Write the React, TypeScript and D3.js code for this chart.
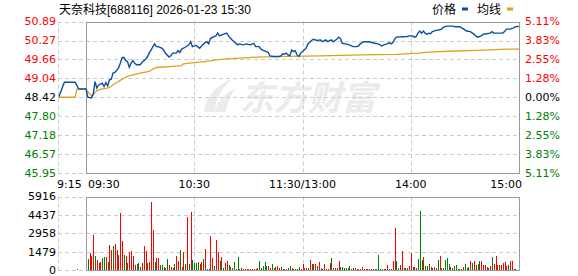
import React from "react";
import * as d3 from "d3";

const W = 578;
const H = 276;

const titleText = "天奈科技[688116] 2026-01-23 15:30";
const legendNames = ["价格", "均线"];

const priceTicks = [50.89, 50.27, 49.66, 49.04, 48.42, 47.8, 47.18, 46.57, 45.95];
const priceTickLabels = ["50.89", "50.27", "49.66", "49.04", "48.42", "47.80", "47.18", "46.57", "45.95"];
const pctTickLabels = ["5.11%", "3.83%", "2.55%", "1.28%", "0.00%", "1.28%", "2.55%", "3.83%", "5.11%"];
const volTicks = [5916, 4437, 2958, 1479, 0];
const timeLabelText = ["9:15", "09:30", "10:30", "11:30/13:00", "14:00", "15:00"];
const timeLabelMinutes = [-15, 0, 60, 120, 180, 240];
const gridMinutes = [60, 120, 180];

// minutes from 09:30 (negative = pre-market auction from 9:15); afternoon continues at 120
const priceMinutes = [
  -15, -12, -6, -4, 0, 1, 3, 4, 5, 6, 7, 9, 10, 11, 12, 13, 14, 15, 16, 18, 19, 20, 21, 22, 23, 24, 25, 26, 27, 28, 30,
  31, 33, 34, 35, 36, 38, 39, 40, 42, 43, 44, 46, 47, 48, 50, 51, 52, 53, 55, 56, 57, 58, 59, 61, 63, 64, 66, 67, 68,
  69, 71, 72, 73, 74, 76, 78, 79, 81, 83, 84, 85, 87, 89, 91, 93, 94, 96, 97, 98, 100, 101, 102, 104, 107, 108, 109,
  110, 111, 112, 113, 114, 115, 116, 117, 118, 119, 120, 122, 123, 125, 126, 128, 130, 131, 133, 134, 136, 137, 139,
  140, 141, 142, 144, 146, 148, 150, 151, 152, 154, 157, 160, 162, 164, 165, 167, 168, 169, 170, 171, 172, 178, 179,
  181, 182, 183, 184, 185, 186, 187, 188, 189, 190, 191, 192, 194, 196, 197, 198, 200, 203, 205, 207, 209, 211, 213,
  215, 216, 217, 219, 220, 222, 224, 225, 226, 231, 232, 233, 235, 237, 238, 240,
];
const priceValues = [
  48.44, 48.91, 48.91, 48.69, 48.69, 48.42, 48.4, 48.52, 48.93, 48.72, 48.82, 48.88, 48.77, 48.9, 48.79, 48.99, 49.01,
  49.21, 49.23, 49.37, 49.53, 49.71, 49.72, 49.62, 49.58, 49.4, 49.53, 49.62, 49.53, 49.48, 49.48, 49.55, 49.66, 49.73,
  49.86, 49.96, 50.16, 50.07, 50.07, 50.02, 49.96, 49.86, 49.73, 49.77, 49.86, 49.86, 49.94, 49.88, 49.99, 50.05, 50.09,
  50.13, 50.23, 50.07, 50.11, 50.02, 50.09, 50.2, 50.23, 50.16, 50.34, 50.4, 50.42, 50.51, 50.42, 50.47, 50.51, 50.42,
  50.29, 50.18, 50.13, 50.16, 50.13, 50.16, 50.13, 50.18, 50.07, 50.07, 49.99, 49.96, 49.91, 49.88, 49.77, 49.75, 49.75,
  49.77, 49.83, 49.83, 49.86, 49.8, 49.77, 49.96, 49.91, 49.94, 49.8, 49.75, 49.86, 49.91, 50.02, 50.16, 50.27, 50.31,
  50.27, 50.29, 50.23, 50.29, 50.23, 50.29, 50.23, 50.31, 50.38, 50.34, 50.18, 50.16, 50.13, 50.07, 50.07, 50.09, 50.16,
  50.23, 50.23, 50.18, 50.16, 50.09, 50.13, 50.16, 50.2, 50.16, 50.2, 50.31, 50.38, 50.4, 50.42, 50.42, 50.38, 50.4,
  50.51, 50.58, 50.51, 50.58, 50.51, 50.47, 50.51, 50.49, 50.56, 50.6, 50.62, 50.64, 50.7, 50.74, 50.74, 50.72, 50.72,
  50.66, 50.58, 50.56, 50.48, 50.42, 50.38, 50.42, 50.47, 50.49, 50.51, 50.56, 50.51, 50.51, 50.56, 50.64, 50.64, 50.68,
  50.72, 50.73,
];

const avgMinutes = [
  -15, -6, -5, 0, 1, 3, 4, 6, 9, 12, 14, 15, 17, 19, 21, 23, 26, 30, 35, 37, 39, 46, 53, 54, 60, 68, 72, 78, 95, 112,
  130, 153, 172, 184, 190, 201, 217, 233, 240,
];
const avgValues = [
  48.42, 48.42, 48.69, 48.69, 48.6, 48.47, 48.5, 48.64, 48.69, 48.72, 48.77, 48.83, 48.9, 48.97, 49.04, 49.1, 49.15,
  49.21, 49.26, 49.34, 49.39, 49.42, 49.45, 49.51, 49.55, 49.6, 49.64, 49.67, 49.73, 49.75, 49.77, 49.8, 49.82, 49.86,
  49.89, 49.92, 49.95, 49.99, 49.99,
];

const volMinutes = [
  -5, 0, 1, 2, 3, 4, 5, 6, 7, 8, 9, 10, 11, 12, 13, 14, 15, 16, 17, 18, 19, 20, 21, 22, 23, 24, 25, 26, 27, 28, 29, 30,
  31, 32, 33, 34, 35, 36, 37, 38, 39, 40, 41, 42, 43, 44, 45, 46, 47, 48, 49, 50, 51, 52, 53, 54, 55, 56, 57, 58, 59,
  60, 61, 62, 63, 64, 65, 66, 67, 68, 69, 70, 71, 72, 73, 74, 75, 76, 77, 78, 79, 80, 81, 82, 83, 84, 85, 86, 87, 88,
  89, 90, 91, 92, 93, 94, 95, 96, 97, 98, 99, 100, 101, 102, 103, 104, 105, 106, 107, 108, 109, 110, 111, 112, 113,
  114, 115, 116, 117, 118, 119, 120, 121, 122, 123, 124, 125, 126, 127, 128, 129, 130, 131, 132, 133, 134, 135, 136,
  137, 138, 139, 140, 141, 142, 143, 144, 145, 146, 147, 148, 149, 150, 151, 152, 153, 154, 155, 156, 157, 158, 159,
  160, 161, 162, 163, 164, 165, 166, 167, 168, 169, 170, 171, 172, 173, 174, 175, 176, 177, 178, 179, 180, 181, 182,
  183, 184, 185, 186, 187, 188, 189, 190, 191, 192, 193, 194, 195, 196, 197, 198, 199, 200, 201, 202, 203, 204, 205,
  206, 207, 208, 209, 210, 211, 212, 213, 214, 215, 216, 217, 218, 219, 220, 221, 222, 223, 224, 225, 226, 227, 228,
  229, 230, 231, 232, 233, 234, 235, 236, 237, 238, 240,
];
const volValues = [
  100, 1210, 890, 1370, 1130, 2820, 1130, 810, 590, 620, 1000, 1050, 1080, 670, 2020, 1590, 1940, 2100, 1610, 1210, 4600,
  2340, 1210, 1100, 590, 1430, 1560, 1100, 400, 510, 590, 270, 590, 1940, 1530, 560, 650, 5490, 3250, 650, 1000, 940,
  400, 400, 215, 135, 890, 400, 240, 190, 480, 1160, 730, 1610, 270, 1480, 460, 4300, 480, 4680, 810, 560, 560, 670, 460,
  620, 890, 1670, 80, 80, 2770, 970, 350, 2420, 1450, 730, 1080, 190, 540, 730, 400, 270, 135, 620, 80, 1050, 80, 160,
  80, 80, 80, 80, 80, 80, 80, 80, 135, 730, 135, 350, 670, 300, 300, 190, 460, 135, 270, 300, 190, 240, 80, 80, 80, 190,
  320, 160, 80, 80, 80, 240, 80, 480, 135, 160, 190, 810, 480, 480, 480, 350, 650, 135, 80, 480, 80, 80, 590, 1000, 190,
  190, 135, 750, 215, 240, 190, 160, 135, 350, 80, 190, 135, 80, 80, 80, 270, 80, 80, 80, 80, 80, 80, 80, 80, 1210, 80,
  80, 80, 80, 400, 80, 80, 730, 3420, 730, 190, 400, 1560, 135, 190, 135, 320, 1370, 240, 240, 135, 890, 4760, 810, 1080,
  320, 320, 480, 270, 135, 270, 135, 810, 1130, 190, 135, 810, 970, 510, 270, 135, 350, 400, 80, 80, 80, 240, 480, 190,
  215, 730, 540, 730, 400, 480, 730, 730, 400, 400, 270, 190, 350, 1050, 480, 1130, 400, 400, 400, 560, 650, 320, 430,
  730, 730, 80, 80, 1290,
];
// 1 = up (red), 0 = down (green)
const volUp = [
  1, 0, 0, 1, 1, 1, 0, 1, 1, 1, 0, 0, 1, 0, 1, 1, 0, 1, 1, 1, 1, 1, 0, 1, 0, 1, 1, 1, 1, 0, 0, 1, 1, 1, 1, 0, 1, 1, 1, 0,
  1, 1, 0, 0, 1, 0, 0, 1, 1, 1, 0, 1, 1, 0, 1, 1, 0, 1, 0, 1, 0, 0, 0, 0, 1, 1, 0, 1, 0, 0, 1, 1, 0, 1, 1, 0, 1, 0, 1, 1,
  0, 0, 1, 0, 1, 0, 0, 1, 1, 1, 1, 1, 1, 1, 1, 1, 1, 0, 0, 0, 0, 0, 1, 1, 0, 1, 0, 1, 1, 0, 1, 1, 1, 0, 0, 1, 0, 0, 0, 0,
  1, 1, 1, 1, 0, 1, 0, 1, 1, 0, 1, 0, 1, 1, 1, 1, 1, 0, 1, 0, 1, 1, 0, 0, 0, 0, 0, 0, 1, 1, 0, 1, 1, 1, 1, 1, 1, 1, 1, 1,
  0, 0, 0, 0, 0, 0, 1, 0, 1, 0, 0, 1, 1, 0, 0, 1, 1, 0, 1, 0, 1, 1, 0, 1, 1, 0, 0, 0, 1, 0, 0, 1, 0, 1, 1, 0, 0, 1, 1, 0,
  0, 0, 0, 1, 0, 0, 0, 0, 0, 0, 1, 0, 0, 0, 1, 0, 1, 1, 0, 0, 1, 1, 1, 1, 0, 1, 0, 1, 1, 1, 0, 1, 1, 1, 1, 0, 1, 1,
];

const RED = "#ff0000";
const GREEN = "#008000";
const BLACK = "#000000";
const BLUE = "#0b4f9f";
const ORANGE = "#dea11c";
const GRID = "#cccccc";
const FRAME = "#999999";
const FONT = "'DejaVu Sans', Tahoma, sans-serif";
const CJK = "'Liberation Sans', 'Noto Sans CJK SC', sans-serif";

const px = (v: number) => Math.round(v) + 0.5;

export default function App() {
  const left = 86;
  const right = 519;
  const preLeft = 58;
  const pTop = 21.5;
  const pBottom = 173;
  const vTop = 196.5;
  const vBottom = 270;

  const x = d3.scaleLinear().domain([0, 240]).range([left, right]);
  const yP = d3.scaleLinear().domain([45.95, 50.89]).range([pBottom, pTop]);
  const yV = d3.scaleLinear().domain([0, 5916]).range([vBottom, vTop]);

  const line = d3
    .line<[number, number]>()
    .x((d) => x(d[0]))
    .y((d) => yP(d[1]));

  const pricePath = line(priceMinutes.map((m, i) => [m, priceValues[i]] as [number, number])) || "";
  const avgPath = line(avgMinutes.map((m, i) => [m, avgValues[i]] as [number, number])) || "";

  const tickColor = (i: number) => (i < 4 ? RED : i === 4 ? BLACK : GREEN);

  return (
    <svg
      width={W}
      height={H}
      style={{ position: "absolute", left: 0, top: 0, background: "#fff" }}
      xmlns="http://www.w3.org/2000/svg"
    >
      <rect x={0} y={0} width={W} height={H} fill="#fff" />

      {/* watermark */}
      <g fill="#ebebeb">
        <path d="M204,112 C206,98 214,86 232,79 C222,88 216,98 214,112 Z" />
        <path d="M214,112 C218,100 226,92 236,88 C230,96 227,104 226,112 Z" />
        <text x={240} y={110} fontSize={34} fontWeight="bold" fontFamily="'Noto Sans CJK SC', sans-serif" fontStyle="italic">
          东方财富
        </text>
      </g>

      {/* price grid */}
      {priceTicks.map((t, i) => (
        <line
          key={"pg" + i}
          x1={preLeft}
          x2={right}
          y1={px(yP(t))}
          y2={px(yP(t))}
          stroke={GRID}
          strokeDasharray="4,3"
        />
      ))}
      <line x1={preLeft + 0.5} x2={preLeft + 0.5} y1={pTop} y2={pBottom} stroke={GRID} strokeDasharray="4,3" />
      {gridMinutes.map((m) => (
        <line key={"pv" + m} x1={px(x(m))} x2={px(x(m))} y1={pTop} y2={pBottom} stroke={GRID} strokeDasharray="4,3" />
      ))}
      <rect
        x={px(left)}
        y={px(pTop)}
        width={Math.round(right) - Math.round(left)}
        height={Math.round(pBottom) - Math.round(pTop)}
        fill="none"
        stroke={FRAME}
      />

      {/* volume grid */}
      {volTicks.map((t, i) => (
        <line
          key={"vg" + i}
          x1={preLeft}
          x2={right}
          y1={px(yV(t))}
          y2={px(yV(t))}
          stroke={GRID}
          strokeDasharray="4,3"
        />
      ))}
      <line x1={preLeft + 0.5} x2={preLeft + 0.5} y1={vTop} y2={vBottom} stroke={GRID} strokeDasharray="4,3" />
      {gridMinutes.map((m) => (
        <line key={"vv" + m} x1={px(x(m))} x2={px(x(m))} y1={vTop} y2={vBottom} stroke={GRID} strokeDasharray="4,3" />
      ))}

      {/* volume bars */}
      {volMinutes.map((m, i) => {
        const top = Math.round(yV(volValues[i]));
        const h = Math.max(1, Math.round(vBottom) - top);
        return (
          <rect
            key={"vb" + i}
            x={Math.round(x(m))}
            y={Math.round(vBottom) - h}
            width={1}
            height={h}
            fill={volUp[i] ? RED : GREEN}
            shapeRendering="crispEdges"
          />
        );
      })}
      <rect
        x={px(left)}
        y={px(vTop)}
        width={Math.round(right) - Math.round(left)}
        height={Math.round(vBottom) - Math.round(vTop)}
        fill="none"
        stroke={FRAME}
      />

      {/* lines */}
      <path d={avgPath} fill="none" stroke={ORANGE} strokeWidth={1.3} />
      <path d={pricePath} fill="none" stroke={BLUE} strokeWidth={1.4} />

      {/* left price labels */}
      {priceTickLabels.map((l, i) => (
        <text
          key={"pl" + i}
          x={56}
          y={yP(priceTicks[i])}
          dy="0.36em"
          textAnchor="end"
          fontSize={11}
          fontFamily={FONT}
          fill={tickColor(i)}
        >
          {l}
        </text>
      ))}
      {/* right pct labels */}
      {pctTickLabels.map((l, i) => (
        <text
          key={"pr" + i}
          x={525}
          y={yP(priceTicks[i])}
          dy="0.36em"
          fontSize={11}
          fontFamily={FONT}
          fill={tickColor(i)}
        >
          {l}
        </text>
      ))}
      {/* volume labels */}
      {volTicks.map((t, i) => (
        <text
          key={"vl" + i}
          x={56}
          y={yV(t)}
          dy="0.36em"
          textAnchor="end"
          fontSize={11}
          fontFamily={FONT}
          fill={BLACK}
        >
          {t}
        </text>
      ))}
      {/* time labels */}
      {timeLabelText.map((l, i) => {
        const m = timeLabelMinutes[i];
        let anchor = "middle";
        let xx = x(m);
        if (i === 0) {
          anchor = "start";
          xx = 57;
        } else if (i === 1) {
          anchor = "start";
          xx = 88;
        } else if (i === timeLabelText.length - 1) {
          anchor = "end";
          xx = 522;
        }
        return (
          <text key={"tl" + i} x={xx} y={188} textAnchor={anchor} fontSize={11} fontFamily={FONT} fill={BLACK}>
            {l}
          </text>
        );
      })}

      {/* title */}
      <text x={59} y={14} fontSize={12} fontFamily={CJK} fill={BLACK}>
        {titleText}
      </text>
      {/* legend */}
      <text x={432} y={14} fontSize={12} fontFamily="'Noto Sans CJK SC', sans-serif" fill={BLACK}>
        {legendNames[0]}
      </text>
      <rect x={462} y={7.5} width={6} height={3} fill={BLUE} />
      <text x={477} y={14} fontSize={12} fontFamily="'Noto Sans CJK SC', sans-serif" fill={BLACK}>
        {legendNames[1]}
      </text>
      <rect x={507} y={7.5} width={6} height={3} fill={ORANGE} />
    </svg>
  );
}
